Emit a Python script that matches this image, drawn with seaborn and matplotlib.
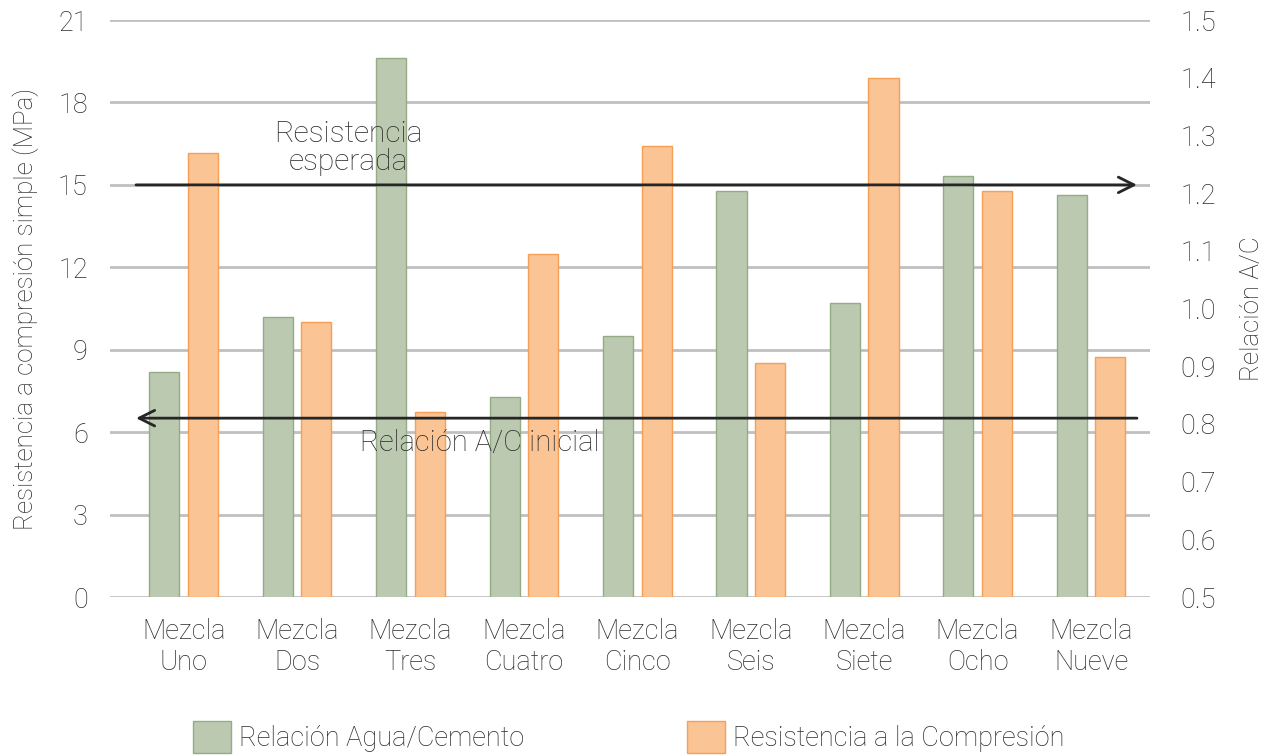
import pandas as pd
import matplotlib.pyplot as plt
import seaborn as sns
from matplotlib.patches import Patch

sns.set_style('white')
plt.rcParams['font.family'] = ['Roboto', 'DejaVu Sans']
plt.rcParams['font.weight'] = 'light'

# data
mezclas = ['Mezcla\nUno', 'Mezcla\nDos', 'Mezcla\nTres', 'Mezcla\nCuatro', 'Mezcla\nCinco',
           'Mezcla\nSeis', 'Mezcla\nSiete', 'Mezcla\nOcho', 'Mezcla\nNueve']
relacion_ac = [0.89, 0.985, 1.435, 0.847, 0.952, 1.203, 1.01, 1.23, 1.197]
resistencia = [16.15, 10.0, 6.75, 12.5, 16.4, 8.5, 18.9, 14.77, 8.75]
series = ['Relación Agua/Cemento', 'Resistencia a la Compresión']
left_ticks = [0, 3, 6, 9, 12, 15, 18, 21]
right_ticks = [0.5, 0.6, 0.7, 0.8, 0.9, 1.0, 1.1, 1.2, 1.3, 1.4, 1.5]
resistencia_esperada = 15
relacion_inicial = 0.81

green, green_edge = '#BCC9B1', '#93AC86'
orange, orange_edge = '#FAC494', '#F5A055'
text_col = '#2b2b2b'
fs = 19.5

df_ac = pd.DataFrame({'mezcla': mezclas, 'valor': relacion_ac, 'serie': series[0]})
df_res = pd.DataFrame({'mezcla': mezclas, 'valor': resistencia, 'serie': series[1]})

fig, ax1 = plt.subplots(figsize=(12.7, 7.56), dpi=100)
fig.subplots_adjust(left=0.0866, right=0.9055, top=0.9735, bottom=0.2103)
ax2 = ax1.twinx()

# orange bars on the left axis, green bars on the right axis
sns.barplot(data=df_res, x='mezcla', y='valor', hue='serie', hue_order=series,
            palette=[green, orange], saturation=1, width=0.68, gap=0.22, dodge=True, legend=False,
            edgecolor=orange_edge, linewidth=1, ax=ax1)
sns.barplot(data=df_ac, x='mezcla', y='valor', hue='serie', hue_order=series,
            palette=[green, orange], saturation=1, width=0.68, gap=0.22, dodge=True, legend=False,
            edgecolor=green_edge, linewidth=1, ax=ax2)

ax1.set_ylim(0, 21)
ax2.set_ylim(0.5, 1.5)
ax1.set_xlim(-0.65, 8.52)
ax1.set_yticks(left_ticks)
ax2.set_yticks(right_ticks)
ax2.set_yticklabels([f'{t:.1f}' for t in right_ticks])

ax1.yaxis.grid(True, color='#C0C0C0', linewidth=2)
ax1.set_axisbelow(True)
for ax in (ax1, ax2):
    sns.despine(ax=ax, left=True, right=True, top=True, bottom=True)
    ax.tick_params(length=0, labelsize=fs, labelcolor=text_col)
ax1.tick_params(axis='y', pad=16)
ax1.tick_params(axis='x', pad=15)
ax2.tick_params(axis='y', pad=22)

ax1.set_xlabel('')
ax1.set_ylabel('Resistencia a compresión simple (MPa)', fontsize=18.7, fontweight='light',
               color=text_col, labelpad=14)
ax2.set_ylabel('Relación A/C', fontsize=18.7, fontweight='light', color=text_col, labelpad=17)

# reference arrows
ax2.annotate('', xy=(8.43, resistencia_esperada), xytext=(-0.445, resistencia_esperada),
             xycoords=ax1.transData, textcoords=ax1.transData,
             arrowprops=dict(arrowstyle='->', color='#262626', lw=2, mutation_scale=28))
ax2.annotate('', xy=(-0.445, relacion_inicial), xytext=(8.43, relacion_inicial),
             arrowprops=dict(arrowstyle='->', color='#262626', lw=2, mutation_scale=28))
ax2.text(1.45, 16.35, 'Resistencia\nesperada', transform=ax1.transData, ha='center', va='center',
         fontsize=21.5, color=text_col, linespacing=1.0)
ax2.text(2.61, 0.767, 'Relación A/C inicial', ha='center', va='center',
         fontsize=21, color=text_col)

handles = [Patch(facecolor=green, edgecolor=green_edge), Patch(facecolor=orange, edgecolor=orange_edge)]
fig.legend(handles, series, loc='center', bbox_to_anchor=(0.495, 0.025), ncol=2, frameon=False,
           fontsize=fs, handlelength=1.4, handleheight=1.4, handletextpad=0.3, columnspacing=6.0,
           labelcolor=text_col)

fig.savefig('out.png', dpi=100)
